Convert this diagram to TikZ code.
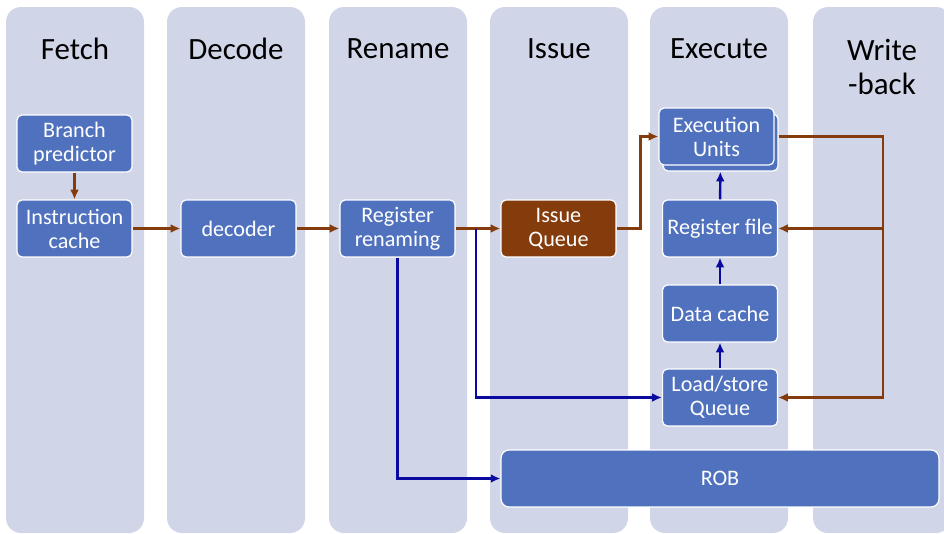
\documentclass[tikz,border=0pt]{standalone}
\usepackage{fontspec}
\setmainfont{Carlito}
\usetikzlibrary{arrows.meta}

\definecolor{lanebg}{HTML}{D0D5E8}
\definecolor{unitblue}{HTML}{5072BE}
\definecolor{flowbrown}{HTML}{843C0C}
\definecolor{flowblue}{HTML}{0A0AA0}

\tikzset{
  lanebox/.style={fill=lanebg, rounded corners=0.3cm},
  stagetitle/.style={font=\fontsize{17.6}{19.3}\selectfont, align=center, inner sep=0pt},
  unit/.style={draw=white, line width=0.7pt, fill=unitblue, rounded corners=0.1cm,
    minimum width=2.3cm, minimum height=1.14cm, text=white, align=center,
    font=\fontsize{12.6}{13.6}\selectfont, inner sep=1pt},
  brownflow/.style={draw=flowbrown, line width=1.4pt, -{Latex[length=5.5pt,width=5pt]}},
  blueflow/.style={draw=flowblue, line width=1.4pt, -{Latex[length=5.5pt,width=5pt]}}
}

\begin{document}
\begin{tikzpicture}[x=0.02cm, y=-0.02cm]
  \useasboundingbox (0,0) rectangle (944,534);

  % pipeline lanes
  \foreach \lx in {6,167,329,490,650,813}
    \fill[lanebox] (\lx,7) rectangle ++(138,526);

  \node[stagetitle] (tfetch) at (75,49) {Fetch};
  \node[stagetitle] (tdecode) at (236,49) {Decode};
  \node[stagetitle] (trename) at (398,49) {Rename};
  \node[stagetitle] (tissue) at (559,49) {Issue};
  \node[stagetitle] (texec) at (719,49) {Execute};
  \node[stagetitle] (twb) at (882,67) {Write\\-back};

  % units
  \node[unit] (bp) at (74.5,143.5) {Branch\\predictor};
  \node[unit] (ic) at (74.5,228.5) {Instruction\\cache};
  \node[unit] (dec) at (238.5,228.5) {decoder};
  \node[unit] (ren) at (397.5,228.5) {Register\\renaming};
  \node[unit, fill=flowbrown] (iq) at (558.5,228.5) {Issue\\Queue};
  \node[unit] (eub) at (720.5,142.5) {};
  \node[unit] (eu) at (716.5,136.5) {Execution\\Units};
  \node[unit] (rf) at (720,228.5) {Register file};
  \node[unit] (dc) at (720,313.5) {Data cache};
  \node[unit] (ls) at (720,397.5) {Load/store\\Queue};
  \node[unit, minimum width=8.76cm, rounded corners=0.16cm] (rob) at (720,478.5) {ROB};

  \coordinate (fork) at (476,228.5);
  \coordinate (busa) at (883,136.5);
  \coordinate (busb) at (883,228.5);

  % brown flow
  \draw[brownflow] (bp) -- (ic);
  \draw[brownflow] (ic) -- (dec);
  \draw[brownflow] (dec) -- (ren);
  \draw[brownflow] (ren) -- (iq);
  \draw[brownflow] (iq.east) -- ++(24,0) |- (eu.west);
  \draw[brownflow] (eub.east |- eu.east) -- (busa) |- (ls.east);
  \draw[brownflow] (busb) -- (rf.east);

  % blue flow
  \draw[blueflow] (ren.south) |- (rob.west);
  \draw[blueflow] (fork) |- (ls.west);
  \draw[blueflow] (ls) -- (dc);
  \draw[blueflow] (dc) -- (rf);
  \draw[blueflow] (rf) -- (eub);
\end{tikzpicture}
\end{document}
